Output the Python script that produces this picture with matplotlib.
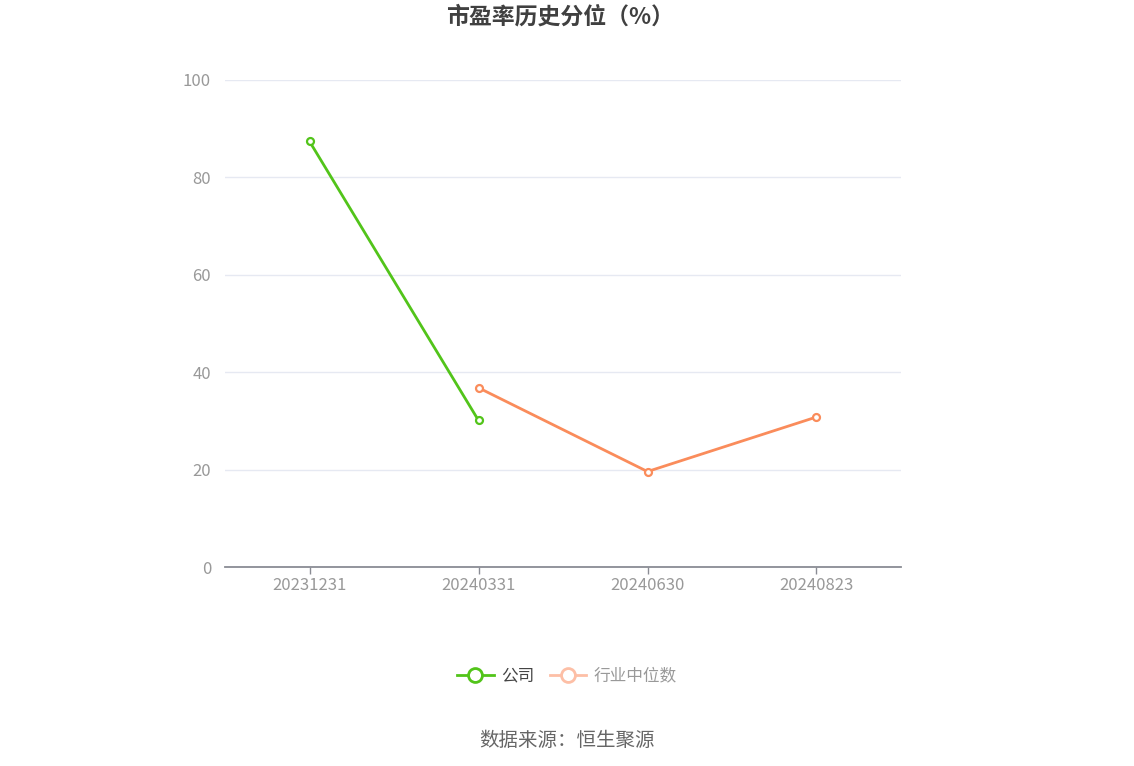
import numpy as np
import matplotlib
matplotlib.use('Agg')
from matplotlib import pyplot as plt
from matplotlib.lines import Line2D

plt.rcParams['font.family'] = ['Noto Sans CJK SC', 'DejaVu Sans']

# data
dates = ['20231231', '20240331', '20240630', '20240823']
company = [87.4, 30.1, np.nan, np.nan]
industry = [np.nan, 36.8, 19.6, 30.8]
yticks = [0, 20, 40, 60, 80, 100]

green = '#52C41A'
orange = '#FA8C5B'

fig = plt.figure(figsize=(11.34, 7.66), dpi=100)
ax = fig.add_axes([225 / 1134, 1 - 567 / 766, 676 / 1134, 487 / 766])

x = np.arange(len(dates))
ax.plot(x, company, color=green, lw=2, marker='o', ms=5, mfc='white', mew=1.6, zorder=3)
ax.plot(x, industry, color=orange, lw=2, marker='o', ms=5, mfc='white', mew=1.6, zorder=3)

ax.set_xlim(-0.5, len(dates) - 0.5)
ax.set_ylim(0, 100)
ax.set_xticks(x)
ax.set_xticklabels(dates)
ax.set_yticks(yticks)
ax.grid(axis='y', color='#E6E9F2', lw=1)
ax.set_axisbelow(True)
for s in ['top', 'right', 'left']:
    ax.spines[s].set_visible(False)
ax.spines['bottom'].set_color('#8A8C94')
ax.spines['bottom'].set_linewidth(1.3)
ax.tick_params(axis='x', colors='#8A8C94', length=5, width=1, labelsize=12, labelcolor='#999999', pad=2)
ax.tick_params(axis='y', length=0, labelsize=12, labelcolor='#999999', pad=10)

fig.text(0.494, 1 - 17 / 766, '市盈率历史分位（%）', ha='center', va='center',
         fontsize=16.5, fontweight='bold', color='#404040')

handles = [
    Line2D([], [], color=green, lw=2, marker='o', ms=10, mfc='white', mew=2),
    Line2D([], [], color='#FDBFA6', lw=2, marker='o', ms=10, mfc='white', mew=2),
]
leg = fig.legend(handles, ['公司', '行业中位数'], loc='center', bbox_to_anchor=(0.5, 1 - 676 / 766),
                 ncol=2, frameon=False, fontsize=12, handlelength=2.2, columnspacing=0.9,
                 handletextpad=0.45)
leg.get_texts()[0].set_color('#444444')
leg.get_texts()[1].set_color('#999999')

fig.text(0.5, 1 - 740 / 766, '数据来源：恒生聚源', ha='center', va='center',
         fontsize=14, color='#666666')

fig.savefig('out.png', dpi=100)
